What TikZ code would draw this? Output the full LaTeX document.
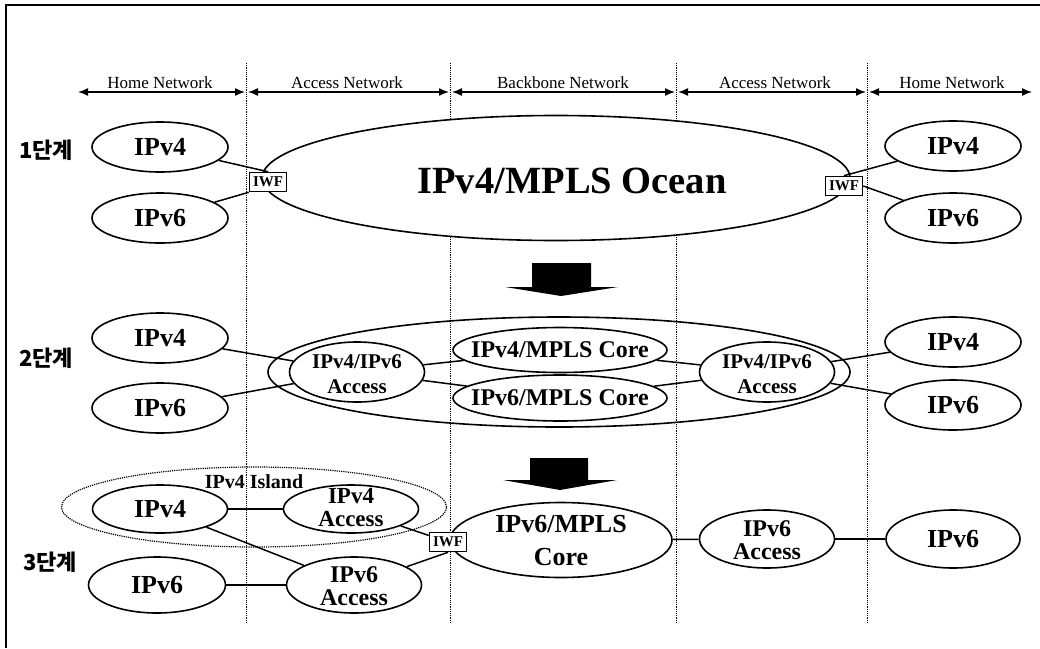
\documentclass[tikz,border=0pt]{standalone}
\usepackage{fontspec}
\setmainfont{Liberation Serif}
\newfontfamily\krfont{Noto Sans CJK KR}
\usetikzlibrary{shapes.geometric,arrows.meta}
\begin{document}
\begin{tikzpicture}[x=1pt,y=-1pt,
  ell/.style={draw, ellipse, line width=1.6pt, inner sep=0pt},
  home/.style={ell, minimum width=136, minimum height=50},
  txt/.style={font=\fontsize{#1}{#1}\selectfont\bfseries, inner sep=0pt, align=center},
  conn/.style={line width=1.5pt},
  vline/.style={densely dotted, line width=1.2pt},
  span/.style={line width=1.4pt, {Latex[length=10pt,width=8pt]}-{Latex[length=10pt,width=8pt]}},
  rowlbl/.style={font=\fontsize{17}{18}\selectfont, inner sep=0pt, anchor=base},
  stage/.style={font=\krfont\bfseries\fontsize{22}{22}\selectfont, inner sep=0pt},
  iwf/.style={draw, fill=white, line width=1.6pt, minimum width=37, minimum height=19, inner sep=0pt, font=\fontsize{15}{15}\selectfont\bfseries},
  blockarrow/.style={fill=black}
]
\useasboundingbox (0,0) rectangle (1040,648);
% frame
\draw[line width=1.2pt] (6,648) -- (6,5) -- (1040,5);

% vertical separators
\foreach \n/\x in {1/246.5,2/450.5,3/676.5,4/867.5}{
  \coordinate (v\n t) at (\x,63);
  \coordinate (v\n b) at (\x,622);
  \draw[vline] (v\n t) -- (v\n b);
}

% top spans
\coordinate (p0) at (78,92);
\coordinate (p1a) at (245,92); \coordinate (p1b) at (248,92);
\coordinate (p2a) at (449,92); \coordinate (p2b) at (452,92);
\coordinate (p3a) at (675,92); \coordinate (p3b) at (678,92);
\coordinate (p4a) at (866,92); \coordinate (p4b) at (869,92);
\coordinate (p5) at (1032,92);
\draw[span] (p0) -- (p1a);
\draw[span] (p1b) -- (p2a);
\draw[span] (p2b) -- (p3a);
\draw[span] (p3b) -- (p4a);
\draw[span] (p4b) -- (p5);
\node[rowlbl] (l1) at (160,88) {Home Network};
\node[rowlbl] (l2) at (347,88) {Access Network};
\node[rowlbl] (l3) at (563,88) {Backbone Network};
\node[rowlbl] (l4) at (775,88) {Access Network};
\node[rowlbl] (l5) at (952,88) {Home Network};

% stage labels
\node[stage] (st1) at (46,150) {1단계};
\node[stage] (st2) at (46,358) {2단계};
\node[stage] (st3) at (50,562) {3단계};

% ---------- stage 1
\node[ell, fill=white, minimum width=588, minimum height=125] (ocean) at (556,178) {};
\node[txt=38.5] (oceant) at (572,181) {IPv4/MPLS Ocean};
\node[home] (s1l4) at (160,147) {};
\node[txt=26] (s1l4t) at (s1l4) {IPv4};
\node[home] (s1l6) at (160,218) {};
\node[txt=26] (s1l6t) at (s1l6) {IPv6};
\node[home] (s1r4) at (953,146) {};
\node[txt=26] (s1r4t) at (s1r4) {IPv4};
\node[home] (s1r6) at (953,218) {};
\node[txt=26] (s1r6t) at (s1r6) {IPv6};
\node[iwf] (iwf1) at (268,182) {IWF};
\node[iwf] (iwf2) at (844,186) {IWF};
\draw[conn] (s1l4) -- (iwf1.north);
\draw[conn] (s1l6) -- (iwf1.south west);
\draw[conn] (s1r4) -- (iwf2.north);
\draw[conn] (s1r6) -- (iwf2.east);

% arrow 1 -> 2
\fill[blockarrow] (532,263) -- (591,263) -- (591,287) -- (618,287) -- (561,296) -- (505,287) -- (532,287) -- cycle;

% ---------- stage 2
\node[ell, minimum width=582, minimum height=110] (bb2) at (559,372) {};
\node[home] (s2l4) at (160,338) {};
\node[txt=26] (s2l4t) at (s2l4) {IPv4};
\node[home] (s2l6) at (160,408) {};
\node[txt=26] (s2l6t) at (s2l6) {IPv6};
\node[home] (s2r4) at (953,342) {};
\node[txt=26] (s2r4t) at (s2r4) {IPv4};
\node[home] (s2r6) at (953,405) {};
\node[txt=26] (s2r6t) at (s2r6) {IPv6};
\node[ell, minimum width=135, minimum height=60] (acc2l) at (357,372) {};
\node[txt=20, font=\fontsize{21}{25}\selectfont\bfseries] (acc2lt) at (357,374) {IPv4/IPv6\\Access};
\node[ell, minimum width=135, minimum height=60] (acc2r) at (767,372) {};
\node[txt=20, font=\fontsize{21}{25}\selectfont\bfseries] (acc2rt) at (767,374) {IPv4/IPv6\\Access};
\node[ell, minimum width=214, minimum height=45] (c4) at (560,350) {};
\node[txt=24] (c4t) at (c4) {IPv4/MPLS Core};
\node[ell, minimum width=214, minimum height=46] (c6) at (560,398) {};
\node[txt=24] (c6t) at (c6) {IPv6/MPLS Core};
\draw[conn] (s2l4) -- (acc2l);
\draw[conn] (s2l6) -- (acc2l);
\draw[conn] (acc2l) -- (c4);
\draw[conn] (acc2l) -- (c6);
\draw[conn] (c4) -- (acc2r);
\draw[conn] (c6) -- (acc2r);
\draw[conn] (acc2r) -- (s2r4);
\draw[conn] (acc2r) -- (s2r6);

% arrow 2 -> 3
\fill[blockarrow] (530,458) -- (588,458) -- (588,480) -- (617,480) -- (560,490) -- (503,480) -- (530,480) -- cycle;

% ---------- stage 3
\node[draw, ellipse, densely dotted, line width=1.2pt, minimum width=385, minimum height=80, inner sep=0pt] (island) at (254,507) {};
\node[txt=20] (islandt) at (254,482) {IPv4 Island};
\node[ell, minimum width=135, minimum height=48] (s3l4) at (160,509) {};
\node[txt=26] (s3l4t) at (s3l4) {IPv4};
\node[ell, minimum width=135, minimum height=48] (a4) at (351,509) {};
\node[txt=23, font=\fontsize{23}{23}\selectfont\bfseries] (a4t) at (351,508) {IPv4\\Access};
\node[ell, minimum width=137, minimum height=56] (s3l6) at (157,585) {};
\node[txt=26] (s3l6t) at (s3l6) {IPv6};
\node[ell, minimum width=135, minimum height=56] (a6) at (354,585) {};
\node[txt=24, font=\fontsize{24}{23.5}\selectfont\bfseries] (a6t) at (354,586) {IPv6\\Access};
\node[ell, minimum width=222, minimum height=75] (core) at (561,540) {};
\node[txt=25, font=\fontsize{26}{33}\selectfont\bfseries] (coret) at (561,541) {IPv6/MPLS\\Core};
\node[ell, minimum width=135, minimum height=58] (a6r) at (767,539) {};
\node[txt=24, font=\fontsize{24}{23.5}\selectfont\bfseries] (a6rt) at (767,540) {IPv6\\Access};
\node[ell, minimum width=134, minimum height=58] (s3r6) at (953,539) {};
\node[txt=26] (s3r6t) at (s3r6) {IPv6};
\node[iwf] (iwf3) at (448,542) {IWF};
\draw[conn] (s3l4) -- (a4);
\draw[conn] (s3l4) -- (a6);
\draw[conn] (s3l6) -- (a6);
\draw[conn] (a4) -- (iwf3);
\draw[conn] (a6) -- (iwf3.south);
\draw[conn] (core) -- (a6r);
\draw[conn] (a6r) -- (s3r6);
\end{tikzpicture}
\end{document}
